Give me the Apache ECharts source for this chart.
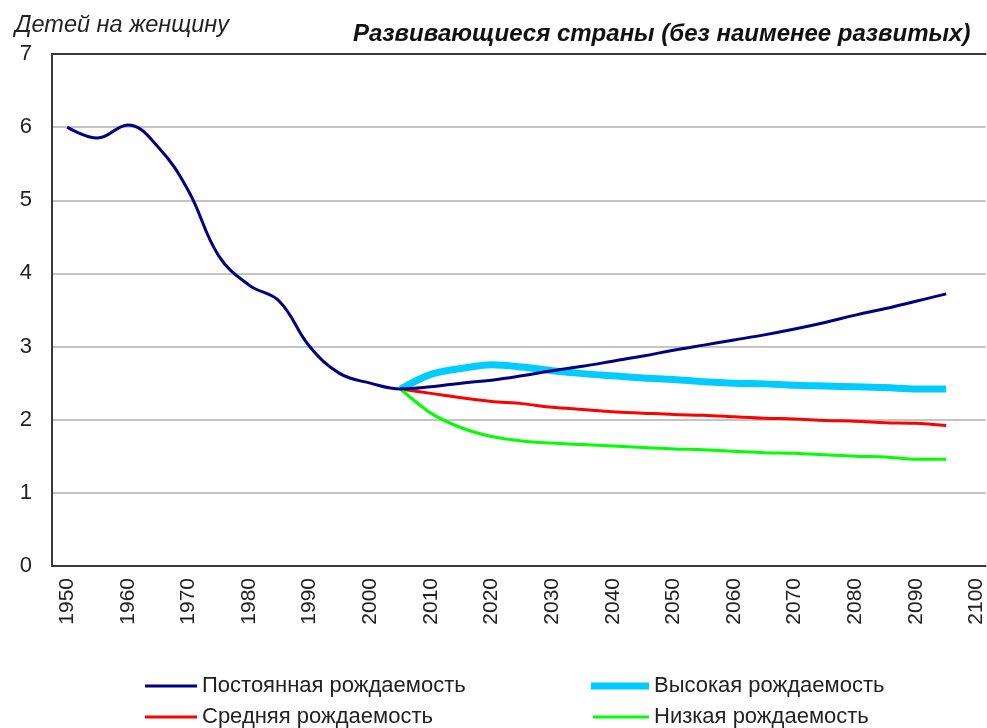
<!DOCTYPE html>
<html>
<head>
<meta charset="utf-8">
<script src="https://cdn.jsdelivr.net/npm/echarts@6/dist/echarts.min.js"></script>
<style>html,body{margin:0;padding:0;background:#fff;overflow:hidden;}#c{width:987px;height:728px;}</style>
</head>
<body>
<div id="c"></div>
<script>
const yearsPast = [1950,1955,1960,1965,1970,1975,1980,1985,1990,1995,2000,2005,2010,2015,2020,2025,2030,2035,2040,2045,2050,2055,2060,2065,2070,2075,2080,2085,2090,2095];
const constantTFR = [6.00,5.85,6.03,5.73,5.13,4.24,3.84,3.62,3.00,2.63,2.50,2.42,2.45,2.50,2.54,2.60,2.67,2.73,2.80,2.87,2.95,3.02,3.09,3.16,3.24,3.33,3.43,3.52,3.62,3.72];
const yearsProj = [2005,2010,2015,2020,2025,2030,2035,2040,2045,2050,2055,2060,2065,2070,2075,2080,2085,2090,2095];
const highTFR   = [2.42,2.62,2.70,2.75,2.72,2.67,2.63,2.60,2.57,2.55,2.52,2.50,2.49,2.47,2.46,2.45,2.44,2.42,2.42];
const mediumTFR = [2.42,2.36,2.30,2.25,2.22,2.17,2.14,2.11,2.09,2.07,2.06,2.04,2.02,2.01,1.99,1.98,1.96,1.95,1.92];
const lowTFR    = [2.42,2.09,1.89,1.77,1.71,1.68,1.66,1.64,1.62,1.60,1.59,1.57,1.55,1.54,1.52,1.50,1.49,1.46,1.46];
const xTickLabels = [1950,1960,1970,1980,1990,2000,2010,2020,2030,2040,2050,2060,2070,2080,2090,2100];
const yTickLabels = [0,1,2,3,4,5,6,7];
const seriesNames = ['Постоянная рождаемость','Высокая рождаемость','Средняя рождаемость','Низкая рождаемость'];
const titleText = 'Развивающиеся страны (без наименее развитых)';
const yAxisTitle = 'Детей на женщину';

const zip = (xs, ys) => xs.map((x, i) => [x, ys[i]]);
const chart = echarts.init(document.getElementById('c'));
const font = 'Arial, "Liberation Sans", sans-serif';
const legendText = { fontFamily: font, fontSize: 22, color: '#222' };
const mkLegend = (name, left, top, w, h) => ({
  data: [name], left: left, top: top, icon: 'rect', itemWidth: w, itemHeight: h,
  textStyle: legendText, padding: 0
});
chart.setOption({
  animation: false,
  title: [
    { text: yAxisTitle, left: 10, top: 9, textStyle: { fontFamily: font, fontStyle: 'italic', fontWeight: 'normal', fontSize: 23.5, color: '#222' } },
    { text: titleText, left: 348, top: 17, textStyle: { fontFamily: font, fontStyle: 'italic', fontWeight: 'bold', fontSize: 24, color: '#111' } }
  ],
  grid: { left: 52, top: 54, right: 0, bottom: 162, show: false },
  legend: [
    mkLegend(seriesNames[0], 145, 675, 52, 3),
    mkLegend(seriesNames[2], 145, 706, 52, 3),
    mkLegend(seriesNames[1], 591, 675, 58, 7),
    mkLegend(seriesNames[3], 593, 706, 56, 3)
  ],
  xAxis: [{
    type: 'value', min: 1947.5, max: 2101.5,
    axisLine: { show: true, onZero: false, lineStyle: { color: '#3a3a3a', width: 2 } },
    axisTick: { show: false },
    splitLine: { show: false },
    axisLabel: { customValues: xTickLabels, rotate: 90, margin: 12, fontFamily: font, fontSize: 21, color: '#222', formatter: v => String(v) }
  }, {
    type: 'value', position: 'top', min: 1947.5, max: 2101.5,
    axisLine: { show: true, onZero: false, lineStyle: { color: '#3a3a3a', width: 2 } },
    axisTick: { show: false }, axisLabel: { show: false }, splitLine: { show: false }
  }],
  yAxis: {
    type: 'value', min: 0, max: 7, interval: 1,
    axisLine: { show: true, lineStyle: { color: '#3a3a3a', width: 2 } },
    axisTick: { show: false },
    splitLine: { show: true, lineStyle: { color: '#c4c4c4', width: 2 } },
    axisLabel: { margin: 20, fontFamily: font, fontSize: 22, color: '#222', formatter: v => yTickLabels.includes(v) ? String(v) : '' }
  },
  series: [
    { name: seriesNames[1], type: 'line', data: zip(yearsProj, highTFR), symbol: 'none', smooth: 0.3, z: 2,
      lineStyle: { color: '#00CCFF', width: 7 }, itemStyle: { color: '#00CCFF' } },
    { name: seriesNames[2], type: 'line', data: zip(yearsProj, mediumTFR), symbol: 'none', smooth: 0.3, z: 3,
      lineStyle: { color: '#FF0000', width: 3 }, itemStyle: { color: '#FF0000' } },
    { name: seriesNames[3], type: 'line', data: zip(yearsProj, lowTFR), symbol: 'none', smooth: 0.3, z: 3,
      lineStyle: { color: '#00FF00', width: 3 }, itemStyle: { color: '#00FF00' } },
    { name: seriesNames[0], type: 'line', data: zip(yearsPast, constantTFR), symbol: 'none', smooth: 0.4, z: 4,
      lineStyle: { color: '#000080', width: 3 }, itemStyle: { color: '#000080' } }
  ]
});
</script>
</body>
</html>
